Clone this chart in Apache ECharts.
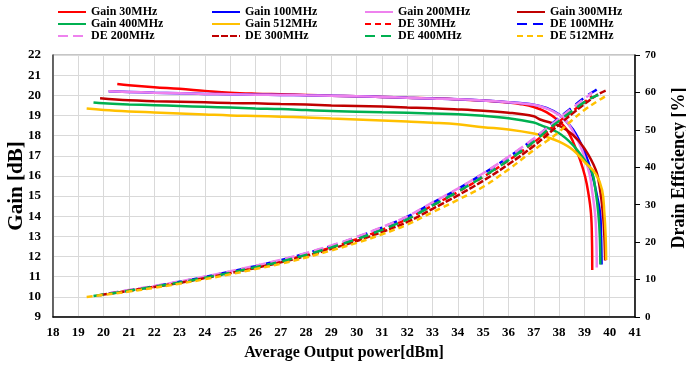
<!DOCTYPE html>
<html>
<head>
<meta charset="utf-8">
<script src="https://cdn.jsdelivr.net/npm/echarts@6/dist/echarts.min.js"></script>
<style>
    html, body { margin: 0; padding: 0; background: #fff; }
    #chart { width: 686px; height: 368px; }
</style>
</head>
<body>
<div id="chart"></div>
<script>
    // Gain curves: [Pout dBm, gain dB]
    var gain30 = [[20.54,20.56],[21,20.5],[22,20.4],[23,20.32],[24,20.22],[25,20.13],[26,20.08],[27,20.05],[28,20.02],[29,19.98],[30,19.95],[31,19.92],[32,19.88],[33,19.85],[34,19.8],[35,19.74],[36,19.64],[36.5,19.56],[37,19.42],[37.5,19.17],[38,18.72],[38.3,18.3],[38.55,17.7],[38.83,16.8],[39.03,15.96],[39.15,15.2],[39.26,14.15],[39.3,12.8],[39.31,11.33]];
    var gain100 = [[20.2,20.2],[21,20.17],[22,20.13],[23,20.1],[24,20.07],[25,20.05],[26,20.03],[27,20.02],[28,20.0],[29,19.98],[30,19.95],[31,19.92],[32,19.88],[33,19.84],[34,19.8],[35,19.74],[36,19.66],[37,19.53],[37.5,19.37],[38,19.05],[38.55,18.3],[39,17.2],[39.3,16.1],[39.5,15.0],[39.62,14.15],[39.66,13],[39.68,11.6]];
    var gain200 = [[20.19,20.2],[21,20.17],[22,20.13],[23,20.1],[24,20.07],[25,20.05],[26,20.03],[27,20.02],[28,20.0],[29,19.98],[30,19.95],[31,19.92],[32,19.88],[33,19.84],[34,19.8],[35,19.74],[36,19.66],[37,19.53],[37.5,19.35],[38,19.03],[38.3,18.7],[38.55,18.2],[38.8,17.6],[39,16.96],[39.22,16.0],[39.3,15.3],[39.42,14.15],[39.47,13],[39.49,11.46]];
    var gain300 = [[19.86,19.85],[21,19.75],[22,19.71],[23,19.68],[24,19.65],[25,19.62],[26,19.6],[27,19.57],[28,19.54],[29,19.5],[30,19.47],[31,19.44],[32,19.4],[33,19.36],[34,19.3],[35,19.23],[36,19.14],[37,18.96],[37.25,18.8],[38,18.5],[38.55,18.03],[39,17.37],[39.45,16.3],[39.62,15.3],[39.73,14.15],[39.79,13],[39.82,11.8]];
    var gain400 = [[19.6,19.64],[20,19.6],[21,19.55],[22,19.51],[23,19.47],[24,19.43],[25,19.39],[26,19.35],[27,19.32],[28,19.27],[29,19.22],[30,19.19],[31,19.16],[32,19.14],[33,19.1],[34,19.06],[35,18.98],[36,18.86],[37,18.65],[37.25,18.53],[38,18.12],[38.55,17.53],[39,16.8],[39.3,16.2],[39.45,15.2],[39.55,14.15],[39.61,13],[39.63,11.6]];
    var gain512 = [[19.33,19.34],[20,19.27],[21,19.2],[22,19.15],[23,19.1],[24,19.05],[25,19.0],[26,18.97],[27,18.94],[28,18.9],[29,18.85],[30,18.8],[31,18.75],[32,18.7],[33,18.64],[34,18.56],[35,18.42],[36,18.3],[37,18.1],[37.5,17.93],[38,17.7],[38.55,17.29],[39,16.7],[39.45,16.1],[39.7,15.3],[39.79,14.15],[39.84,13],[39.86,11.83]];

    // Drain efficiency curves: [Pout dBm, DE %]
    var de30 = [[20.54,6.5],[21,7.0],[22,8.1],[23,9.2],[24,10.4],[25,11.8],[26,13.2],[27,14.8],[28,16.6],[29,18.6],[30,20.8],[31,23.3],[32,26.2],[33,29.8],[34,33.4],[35,37.4],[36,41.8],[37,46.6],[38,52.2],[38.5,54.8],[39,57.4],[39.31,59.0]];
    var de100 = [[20.2,6.3],[21,7.1],[22,8.2],[23,9.4],[24,10.7],[25,12.1],[26,13.6],[27,15.2],[28,17.0],[29,19.0],[30,21.3],[31,23.9],[32,26.8],[33,30.5],[34,34.2],[35,38.3],[36,42.7],[37,47.6],[38,53.2],[38.5,55.9],[39,58.6],[39.4,60.4],[39.66,61.5]];
    var de200 = [[20.19,6.3],[21,7.2],[22,8.3],[23,9.5],[24,10.8],[25,12.2],[26,13.7],[27,15.3],[28,17.1],[29,19.1],[30,21.4],[31,24.0],[32,26.9],[33,30.6],[34,34.3],[35,38.4],[36,42.8],[37,47.7],[38,53.0],[38.5,55.7],[39,58.3],[39.31,60.0]];
    var de300 = [[19.86,5.8],[20,6.0],[21,7.0],[22,8.0],[23,9.1],[24,10.4],[25,11.7],[26,13.1],[27,14.6],[28,16.3],[29,18.2],[30,20.3],[31,22.7],[32,25.4],[33,28.9],[34,32.5],[35,36.4],[36,40.8],[37,45.7],[38,51.4],[38.5,54.2],[39,56.9],[39.5,59.3],[39.84,60.5]];
    var de400 = [[19.6,5.6],[20,6.0],[21,7.0],[22,8.1],[23,9.2],[24,10.5],[25,11.8],[26,13.3],[27,14.8],[28,16.6],[29,18.6],[30,20.8],[31,23.3],[32,26.1],[33,29.8],[34,33.5],[35,37.5],[36,41.9],[37,46.8],[37.58,50.2],[38,52.4],[38.5,55.0],[39,57.4],[39.3,58.6],[39.55,59.3]];
    var de512 = [[19.33,5.35],[20,5.9],[21,6.8],[22,7.8],[23,8.9],[24,10.1],[25,11.4],[26,12.8],[27,14.2],[28,15.9],[29,17.8],[30,19.8],[31,22.1],[32,24.7],[33,28.0],[34,31.3],[35,34.8],[36,39.4],[37,44.6],[37.84,48.6],[38.5,52.5],[39,55.3],[39.5,57.6],[39.86,59.1]];

    var FONT = "'Liberation Serif', 'Times New Roman', serif";

    function gainLine(name, data, color) {
        return {
            name: name, type: 'line', data: data, yAxisIndex: 0,
            smooth: 0.4, symbol: 'none',
            lineStyle: { color: color, width: 2.5 },
            itemStyle: { color: color }
        };
    }
    function deLine(name, data, color, dash) {
        return {
            name: name, type: 'line', data: data, yAxisIndex: 1,
            smooth: 0.4, symbol: 'none',
            lineStyle: { color: color, width: 2.5, type: dash },
            itemStyle: { color: color }
        };
    }
    function legendCol(left, names) {
        return {
            left: left, top: 6, orient: 'vertical', itemGap: 0, padding: 0,
            itemWidth: 28, itemHeight: 12, data: names,
            itemStyle: { opacity: 0 },
            textStyle: { fontFamily: FONT, fontWeight: 'bold', fontSize: 12, color: '#000', lineHeight: 12 }
        };
    }

    var myChart = echarts.init(document.getElementById('chart'));
    var option = {
        animation: false,
        legend: [
            legendCol(57, ['Gain 30MHz', 'Gain 400MHz', 'DE 200MHz']),
            legendCol(211, ['Gain 100MHz', 'Gain 512MHz', 'DE 300MHz']),
            legendCol(364, ['Gain 200MHz', 'DE 30MHz', 'DE 400MHz']),
            legendCol(516, ['Gain 300MHz', 'DE 100MHz', 'DE 512MHz'])
        ],
        grid: {
            left: 53, right: 51, top: 55, bottom: 51,
            outerBoundsMode: 'none', containLabel: false,
            show: true, borderColor: '#8c8c8c', borderWidth: 1
        },
        xAxis: {
            type: 'value', min: 18, max: 41, interval: 1,
            name: 'Average Output power[dBm]', nameLocation: 'middle', nameGap: 28,
            nameMoveOverlap: false,
            nameTextStyle: { fontFamily: FONT, fontWeight: 'bold', fontSize: 16, color: '#000' },
            axisLine: { lineStyle: { color: '#000', width: 1.5 } },
            axisTick: { show: false },
            axisLabel: { fontFamily: FONT, fontWeight: 'bold', fontSize: 13, color: '#000', margin: 9 },
            splitLine: { lineStyle: { color: '#d9d9d9', width: 1 } }
        },
        yAxis: [{
            type: 'value', min: 9, max: 22, interval: 1, position: 'left',
            name: 'Gain [dB]', nameLocation: 'middle', nameGap: 26, nameRotate: 90,
            nameMoveOverlap: false,
            nameTextStyle: { fontFamily: FONT, fontWeight: 'bold', fontSize: 21, color: '#000' },
            axisLine: { show: true, lineStyle: { color: '#404040', width: 1.5 } },
            axisTick: { show: false },
            axisLabel: { fontFamily: FONT, fontWeight: 'bold', fontSize: 13, color: '#000', margin: 12 },
            splitLine: { lineStyle: { color: '#d9d9d9', width: 1 } }
        }, {
            type: 'value', min: 0, max: 70, interval: 10, position: 'right',
            name: 'Drain Efficiency [%]', nameLocation: 'middle', nameGap: 35, nameRotate: 90,
            nameMoveOverlap: false,
            nameTextStyle: { fontFamily: FONT, fontWeight: 'bold', fontSize: 18, color: '#000', padding: [0, 0, 0, 36] },
            axisLine: { show: true, lineStyle: { color: '#000', width: 1.5 } },
            axisTick: { show: true, length: 5, lineStyle: { color: '#000' } },
            axisLabel: { fontFamily: FONT, fontWeight: 'bold', fontSize: 11, color: '#000', margin: 10 },
            splitLine: { show: false }
        }],
        series: [
            gainLine('Gain 30MHz', gain30, '#ff0000'),
            gainLine('Gain 100MHz', gain100, '#0000ff'),
            gainLine('Gain 200MHz', gain200, '#ee82ee'),
            gainLine('Gain 300MHz', gain300, '#c00000'),
            gainLine('Gain 400MHz', gain400, '#00b050'),
            gainLine('Gain 512MHz', gain512, '#ffc000'),
            deLine('DE 30MHz', de30, '#ff0000', [6, 4]),
            deLine('DE 100MHz', de100, '#0000ff', [10, 6]),
            deLine('DE 200MHz', de200, '#ee82ee', [10, 5]),
            deLine('DE 300MHz', de300, '#c00000', [7, 2]),
            deLine('DE 400MHz', de400, '#00b050', [10, 6]),
            deLine('DE 512MHz', de512, '#ffc000', [6, 4])
        ]
    };
    myChart.setOption(option);
</script>
</body>
</html>
